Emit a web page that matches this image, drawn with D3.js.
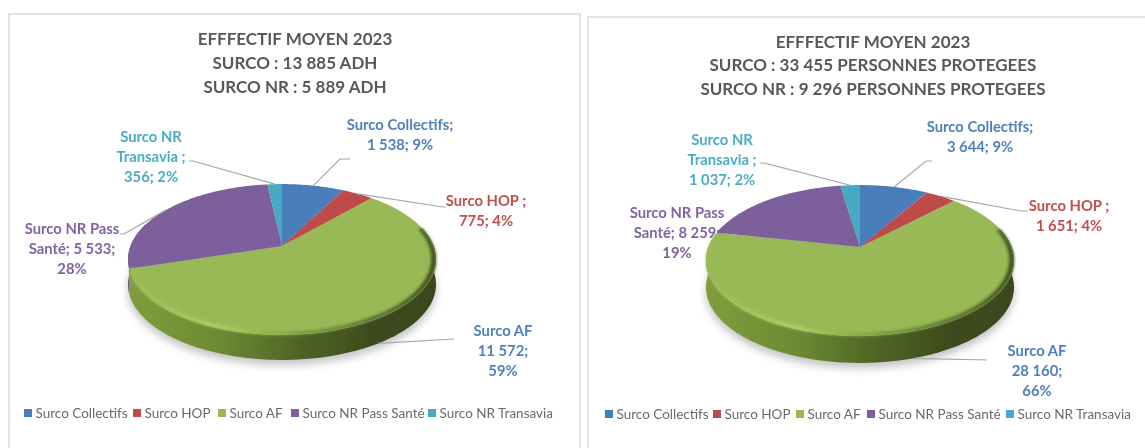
<!DOCTYPE html>
<html>
<head>
<meta charset="utf-8">
<script src="https://cdn.jsdelivr.net/npm/d3@7"></script>
<style>
  html, body { margin: 0; padding: 0; background: #fff; overflow: hidden; }
  text { font-family: Lato, "Open Sans", sans-serif; }
</style>
</head>
<body>
<div id="chart"></div>
<script>
// Data
const categories = ["Surco Collectifs", "Surco HOP", "Surco AF", "Surco NR Pass Santé", "Surco NR Transavia"];
const valuesAdherents = [1538, 775, 11572, 5533, 356];
const valuesProtected = [3644, 1651, 28160, 8259, 1037];
const labelsAdherents = [
    ["Surco Collectifs;", "1 538; 9%"],
    ["Surco HOP ;", "775; 4%"],
    ["Surco AF", "11 572;", "59%"],
    ["Surco NR Pass", "Santé; 5 533;", "28%"],
    ["Surco NR", "Transavia ;", "356; 2%"]
];
const labelsProtected = [
    ["Surco Collectifs;", "3 644; 9%"],
    ["Surco HOP ;", "1 651; 4%"],
    ["Surco AF", "28 160;", "66%"],
    ["Surco NR Pass", "Santé; 8 259;", "19%"],
    ["Surco NR", "Transavia ;", "1 037; 2%"]
];
const titleAdherents = ["EFFFECTIF  MOYEN 2023", "SURCO : 13 885 ADH", "SURCO NR : 5 889 ADH"];
const titleProtected = ["EFFFECTIF  MOYEN 2023", "SURCO : 33 455 PERSONNES PROTEGEES", "SURCO NR : 9 296 PERSONNES PROTEGEES"];

const sliceColors = ["#4a7ebb", "#be4b48", "#98b954", "#7d5f9b", "#46aac5"];
const textColors = ["#4f81bd", "#c0504d", "#4f81bd", "#8064a2", "#4bacc6"];
const wallStops = {
    2: ["#7f9e3c", "#6c8a32", "#4f6526", "#3c4a1c", "#3a461b"],
    3: ["#6a4f86", "#5a4373", "#4a3760", "#3a2a4c", "#32243f"]
};

const width = 1145, height = 448;

// Layout of each panel
const layouts = [
    {
        values: valuesAdherents, labels: labelsAdherents, title: titleAdherents,
        panel: { x: 9, y: 14, w: 571, h: 450 },
        cx: 282, cy: 246, a: 151.5, b: 73, k: 0.179, depth: 25,
        titleX: 295, titleY: [39, 63, 87],
        labelPos: [[400, 125], [486, 201], [503, 331], [72, 229], [151, 137]],
        leaders: [
            [[340, 159], [350, 159]],
            [[443, 207], [446, 207]],
            [[454, 339]],
            [[124, 234], [120, 234]],
            [[193, 161], [189, 161]]
        ],
        legendX: [24, 133, 218, 291, 428], legendY: 413
    },
    {
        values: valuesProtected, labels: labelsProtected, title: titleProtected,
        panel: { x: 588, y: 17, w: 600, h: 450 },
        cx: 860, cy: 247, a: 151.5, b: 73, k: 0.179, depth: 27,
        titleX: 873, titleY: [42, 65, 89],
        labelPos: [[980, 127], [1069, 206], [1037, 351], [677, 213], [722, 140]],
        leaders: [
            [[926, 161], [932, 161]],
            [[1021, 211], [1028, 211]],
            [[987, 360]],
            null,
            [[764, 163], [760, 163]]
        ],
        legendX: [605, 713, 796, 867, 1006], legendY: 414
    }
];

const svg = d3.select("#chart").append("svg")
    .attr("width", width)
    .attr("height", height);

const defs = svg.append("defs");
defs.append("filter").attr("id", "soft")
    .attr("filterUnits", "userSpaceOnUse")
    .attr("x", 0).attr("y", 0)
    .attr("width", width).attr("height", height)
    .append("feGaussianBlur").attr("stdDeviation", 0.7);
defs.append("filter").attr("id", "shadow")
    .attr("x", "-10%").attr("y", "-10%").attr("width", "120%").attr("height", "125%")
    .append("feGaussianBlur").attr("stdDeviation", 4);
defs.append("filter").attr("id", "rimBlur")
    .attr("x", "-5%").attr("y", "-5%").attr("width", "110%").attr("height", "110%")
    .append("feGaussianBlur").attr("stdDeviation", 1.6);

const root = svg.append("g").attr("filter", "url(#soft)");

layouts.forEach((chart, c) => drawPanel(root, chart, c));

function drawPanel(parent, chart, c) {
    const g = parent.append("g");

    g.append("rect")
        .attr("x", chart.panel.x)
        .attr("y", chart.panel.y)
        .attr("width", chart.panel.w)
        .attr("height", chart.panel.h)
        .attr("fill", "#fff")
        .attr("stroke", "#e3e3e3")
        .attr("stroke-width", 2);

    // Perspective disc: angle runs clockwise from the top
    const project = (theta, r = 1) => {
        const u = r * Math.sin(theta), v = -r * Math.cos(theta);
        const s = 1 / (1 - chart.k * v);
        return [chart.cx + chart.a * u * s, chart.cy + chart.b * v * s];
    };

    const arcs = d3.pie().sort(null).startAngle(0).endAngle(2 * Math.PI)(chart.values);
    const line = d3.line();
    const sampled = (a0, a1, r = 1) => {
        const n = Math.max(2, Math.ceil((a1 - a0) / 0.02));
        return d3.range(n + 1).map(i => project(a0 + (a1 - a0) * i / n, r));
    };
    const shifted = (pts, dy) => pts.map(p => [p[0], p[1] + dy]);

    // soft shadow under the disc
    g.append("path")
        .attr("d", line(shifted(sampled(0, 2 * Math.PI), chart.depth + 5)) + "Z")
        .attr("fill", "#8f8f8f")
        .attr("opacity", 0.55)
        .attr("filter", "url(#shadow)");

    labelsLayer(g, chart);

    // side wall gradients
    const x0 = chart.cx - chart.a * 1.02, x1 = chart.cx + chart.a * 1.02;
    arcs.forEach((d, i) => {
        if (!wallStops[i]) return;
        const gradient = defs.append("linearGradient")
            .attr("id", `wall-${c}-${i}`)
            .attr("gradientUnits", "userSpaceOnUse")
            .attr("x1", x0).attr("x2", x1).attr("y1", 0).attr("y2", 0);
        [0, 0.3, 0.55, 0.8, 1].forEach((o, j) => {
            gradient.append("stop").attr("offset", o).attr("stop-color", wallStops[i][j]);
        });
    });

    g.selectAll(".wall")
        .data(arcs.filter((d, i) => wallStops[i]))
        .join("path")
        .attr("class", "wall")
        .attr("d", d => {
            const a0 = Math.max(d.startAngle, Math.PI * 0.42);
            const a1 = Math.min(d.endAngle, Math.PI * 1.6);
            const top = sampled(a0, a1);
            return line(top.concat(shifted(top, chart.depth).reverse())) + "Z";
        })
        .attr("fill", d => `url(#wall-${c}-${d.index})`);

    g.selectAll(".slice")
        .data(arcs)
        .join("path")
        .attr("class", "slice")
        .attr("d", d => line([project(0, 0)].concat(sampled(d.startAngle, d.endAngle))) + "Z")
        .attr("fill", d => sliceColors[d.index]);

    // bevel along the front edge of the green slice
    const afArc = arcs[2];
    const rimId = `rim-${c}`;
    const rim = defs.append("linearGradient")
        .attr("id", rimId)
        .attr("gradientUnits", "userSpaceOnUse")
        .attr("x1", x0).attr("x2", x1).attr("y1", 0).attr("y2", 0);
    [[0, "#98b954"], [0.3, "#b2d268"], [0.5, "#88a646"], [0.72, "#5d7530"], [1, "#3e4d1d"]].forEach(s => {
        rim.append("stop").attr("offset", s[0]).attr("stop-color", s[1]);
    });
    const rimOuter = sampled(Math.max(afArc.startAngle, Math.PI * 0.42), Math.min(afArc.endAngle, Math.PI * 1.55));
    const rimInner = sampled(Math.max(afArc.startAngle, Math.PI * 0.42), Math.min(afArc.endAngle, Math.PI * 1.55), 0.97);
    g.append("path")
        .attr("d", line(rimOuter.concat(rimInner.reverse())) + "Z")
        .attr("fill", `url(#${rimId})`)
        .attr("filter", "url(#rimBlur)");

    // leader lines start on the slice they belong to
    arcs.forEach((d, i) => {
        const elbow = chart.leaders[i];
        if (!elbow) return;
        const mid = (d.startAngle + d.endAngle) / 2;
        const start = project(mid);
        if (i === 2) start[1] += chart.depth;
        g.append("path")
            .attr("d", line([start].concat(elbow)))
            .attr("fill", "none")
            .attr("stroke", "#a6a6a6")
            .attr("stroke-width", 1.2);
    });

    // title
    g.append("g").selectAll("text")
        .data(chart.title)
        .join("text")
        .attr("x", chart.titleX)
        .attr("y", (d, i) => chart.titleY[i])
        .attr("dy", "0.35em")
        .attr("text-anchor", "middle")
        .attr("fill", "#595959")
        .style("font-size", "17px")
        .style("font-weight", "bold")
        .text(d => d);

    // legend
    const legend = g.append("g");
    categories.forEach((name, i) => {
        legend.append("rect")
            .attr("x", chart.legendX[i])
            .attr("y", chart.legendY - 4)
            .attr("width", 8)
            .attr("height", 8)
            .attr("fill", sliceColors[i]);
        legend.append("text")
            .attr("x", chart.legendX[i] + 11.5)
            .attr("y", chart.legendY)
            .attr("dy", "0.35em")
            .attr("fill", "#6a6a6a")
            .style("font-size", "13.5px")
            .text(name);
    });
}

function labelsLayer(g, chart) {
    chart.labels.forEach((lines, i) => {
        const [lx, ly] = chart.labelPos[i];
        lines.forEach((t, j) => {
            g.append("text")
                .attr("x", lx)
                .attr("y", ly + j * 20)
                .attr("dy", "0.35em")
                .attr("text-anchor", "middle")
                .attr("fill", textColors[i])
                .style("font-size", "14.8px")
                .style("font-weight", "bold")
                .text(t);
        });
    });
}
</script>
</body>
</html>
